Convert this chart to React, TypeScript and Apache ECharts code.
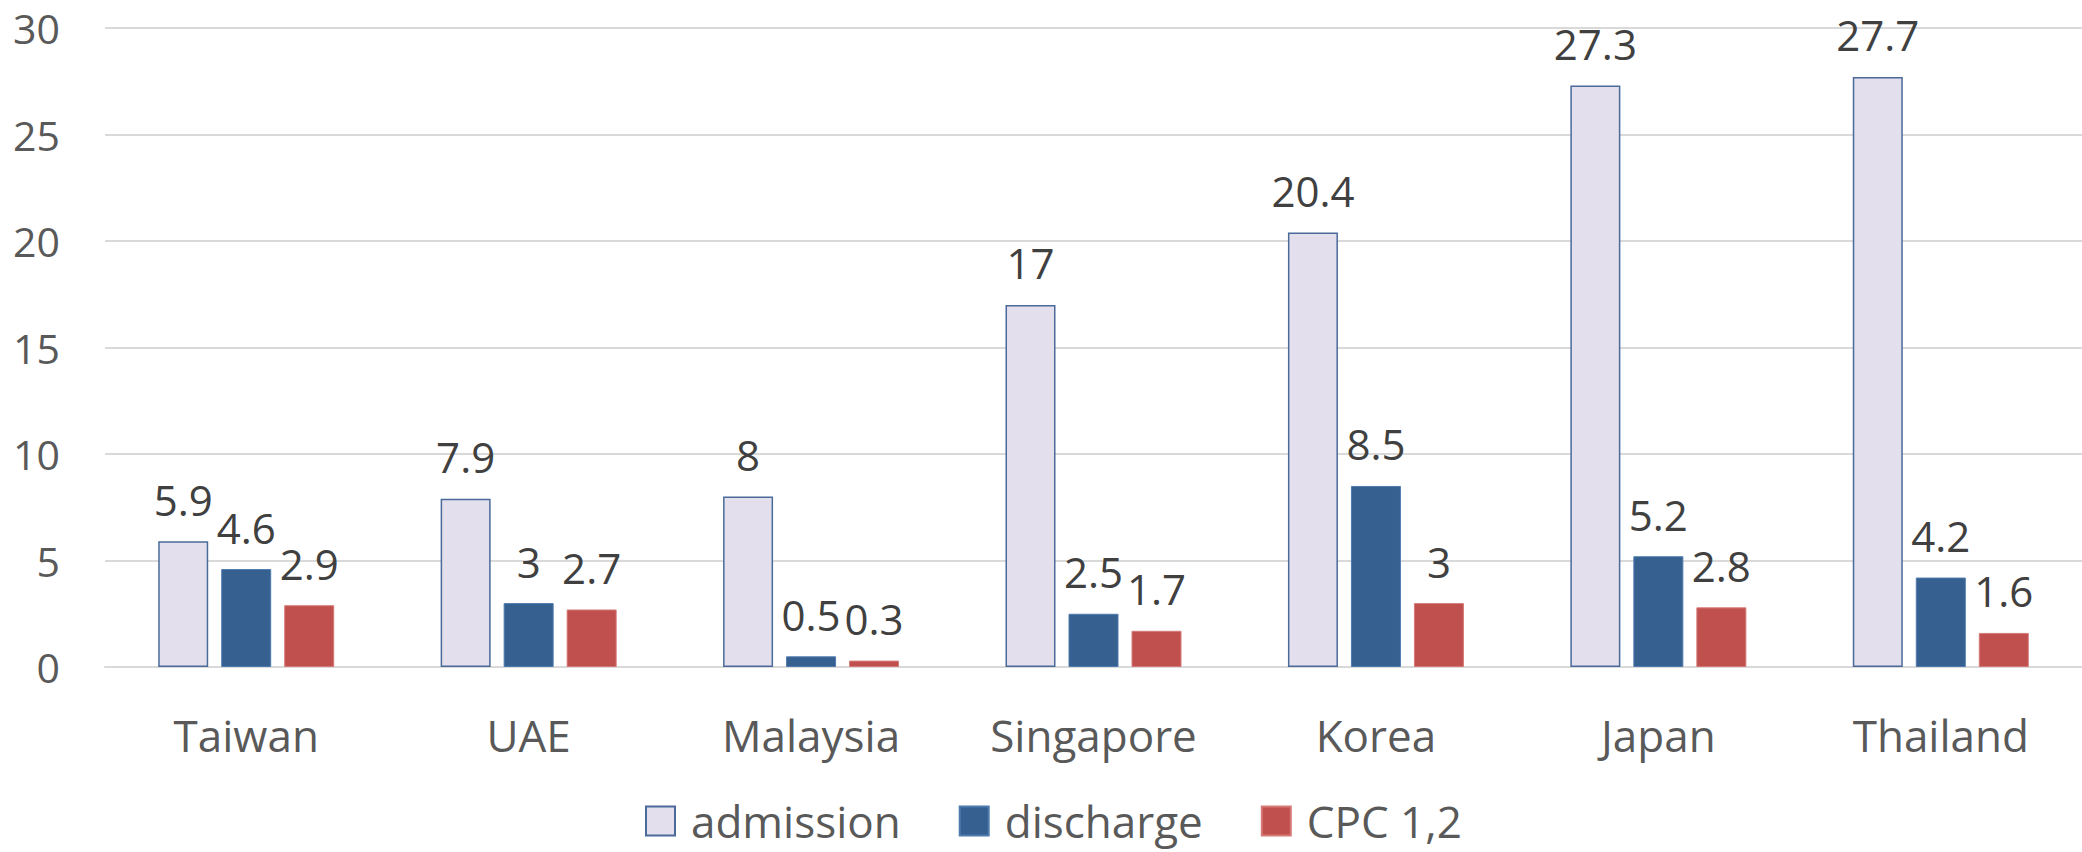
import React, { useEffect, useRef } from "react";
import * as echarts from "echarts";

const categories = ["Taiwan", "UAE", "Malaysia", "Singapore", "Korea", "Japan", "Thailand"];
const admission = [5.9, 7.9, 8, 17, 20.4, 27.3, 27.7];
const discharge = [4.6, 3, 0.5, 2.5, 8.5, 5.2, 4.2];
const cpc12 = [2.9, 2.7, 0.3, 1.7, 3, 2.8, 1.6];
const seriesNames = ["admission", "discharge", "CPC 1,2"];

const FONT = "'Open Sans', 'Noto Sans', sans-serif";

export default function App() {
  const ref = useRef<HTMLDivElement>(null);
  useEffect(() => {
    if (!ref.current) return;
    const chart = echarts.init(ref.current, undefined, { renderer: "svg" });
    const label = {
      show: true,
      position: "top" as const,
      distance: 21,
      fontSize: 42,
      fontFamily: FONT,
      color: "#404040",
    };
    chart.setOption({
      animation: false,
      backgroundColor: "#ffffff",
      grid: { left: 105, right: -7, top: 28, bottom: 185, containLabel: false },
      legend: {
        data: seriesNames,
        left: 645,
        top: 799,
        padding: 0,
        icon: "rect",
        itemWidth: 29,
        itemHeight: 29,
        itemGap: 58,
        textStyle: {
          fontSize: 44,
          lineHeight: 44,
          fontFamily: FONT,
          color: "#595959",
          padding: [0, 0, 0, 11],
        },
      },
      xAxis: {
        type: "category",
        data: categories,
        axisLine: { show: true, lineStyle: { color: "#D9D9D9", width: 2 } },
        axisTick: { show: false },
        axisLabel: { fontSize: 44, fontFamily: FONT, color: "#595959", margin: 46 },
      },
      yAxis: {
        type: "value",
        min: 0,
        max: 30,
        interval: 5,
        axisLine: { show: false },
        axisTick: { show: false },
        splitLine: { lineStyle: { color: "#D9D9D9", width: 2 } },
        axisLabel: { fontSize: 41, fontFamily: FONT, color: "#595959", margin: 45 },
      },
      series: [
        {
          name: seriesNames[0],
          type: "bar",
          data: admission,
          barWidth: 50,
          barGap: "26%",
          itemStyle: { color: "#E4DFEC", borderColor: "#4A6B9A", borderWidth: 1.5 },
          label,
        },
        {
          name: seriesNames[1],
          type: "bar",
          data: discharge,
          barWidth: 50,
          barGap: "26%",
          itemStyle: { color: "#35608F", borderColor: "#4F7BAE", borderWidth: 1 },
          label,
        },
        {
          name: seriesNames[2],
          type: "bar",
          data: cpc12,
          barWidth: 50,
          barGap: "26%",
          itemStyle: { color: "#C0504D", borderColor: "#D67A78", borderWidth: 1 },
          label,
        },
      ],
    });
    return () => chart.dispose();
  }, []);
  return (
    <div
      ref={ref}
      style={{ position: "fixed", left: 0, top: 0, width: 2082, height: 852 }}
    />
  );
}
